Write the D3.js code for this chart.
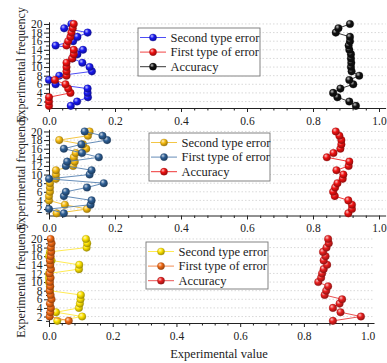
<!DOCTYPE html>
<html><head><meta charset="utf-8">
<script src="https://cdn.jsdelivr.net/npm/d3@7"></script>
<style>
body{margin:0;background:#fff}
svg{display:block}
text{font-family:"Liberation Serif","Times New Roman",serif;fill:#222}
</style>
</head><body>
<svg id="c" width="387" height="363"></svg>
<script>
// ---------- data ----------
const frequency = [1,2,3,4,5,6,7,8,9,10,11,12,13,14,15,16,17,18,19,20];
const xTickValues = [0, 0.2, 0.4, 0.6, 0.8, 1.0];
const yTickValues = [2,4,6,8,10,12,14,16,18,20];
const seriesNames = ["Second type error", "First type of error", "Accuracy"];
const xTitle = "Experimental value";
const yTitle = "Experimental frequency";

// panel 1
const p1Second = [0.066,0.085,0.118,0.117,0.117,0.020,0.000,0.031,0.130,0.123,0.101,0.071,0.086,0.103,0.020,0.073,0.086,0.117,0.046,0.068];
const p1First  = [0.000,0.000,0.000,0.065,0.058,0.050,0.018,0.053,0.053,0.053,0.053,0.070,0.075,0.075,0.053,0.058,0.065,0.068,0.072,0.075];
const p1Acc    = [0.930,0.910,0.874,0.861,0.883,0.922,0.910,0.940,0.917,0.915,0.916,0.915,0.915,0.910,0.908,0.912,0.912,0.869,0.877,0.912];
// panel 2
const p2Second = [0.023,0.115,0.048,0.000,0.000,0.003,0.003,0.003,0.021,0.021,0.021,0.073,0.078,0.075,0.081,0.113,0.103,0.031,0.118,0.123];
const p2First  = [0.045,0.000,0.126,0.129,0.045,0.051,0.115,0.166,0.000,0.123,0.129,0.051,0.055,0.151,0.100,0.045,0.098,0.176,0.162,0.108];
const p2Acc    = [0.907,0.918,0.918,0.907,0.866,0.861,0.867,0.874,0.890,0.892,0.871,0.908,0.910,0.842,0.862,0.883,0.886,0.886,0.880,0.869];
// panel 3
const p3Second = [0.026,0.104,0.022,0.094,0.097,0.099,0.100,0.003,0.003,0.000,0.000,0.000,0.094,0.095,0.008,0.000,0.003,0.118,0.120,0.116];
const p3First  = [0.062,0.002,0.004,0.006,0.003,0.008,0.005,0.002,0.004,0.003,0.005,0.002,0.006,0.004,0.003,0.005,0.007,0.006,0.008,0.005];
const p3Acc    = [0.891,0.979,0.915,0.891,0.912,0.920,0.865,0.870,0.876,0.845,0.854,0.857,0.862,0.873,0.862,0.868,0.860,0.871,0.878,0.876];

// ---------- styling / layout ----------
const panels = [
  {series:[p1Second,p1First,p1Acc], bottom:108, xmax:1.02, right:385.6,
   markers:["#1818f0","#f01010","#111111"], lines:["#3a3af5","#f03030","#222222"],
   legend:{x:138,y:28,w:122,h:48}},
  {series:[p2Second,p2First,p2Acc], bottom:215.5, xmax:1.02, right:385.6,
   markers:["#f6bb10","#2e5f95","#ee1212"], lines:["#f2c030","#5580b0","#ee2020"],
   legend:{x:149,y:133,w:121,h:48}},
  {series:[p3Second,p3First,p3Acc], bottom:323, xmax:1.02, right:374,
   markers:["#ffe400","#f06812","#e81e1e"], lines:["#ffe840","#f08040","#e84040"],
   legend:{x:146,y:242,w:122,h:47}}
];
const left = 49, panelH = 86.2;

const svg = d3.select("#c");
const defs = svg.append("defs");
let gid = 0;
function sphere(color){
  const id = "g" + (gid++);
  const c = d3.color(color);
  const g = defs.append("radialGradient").attr("id", id)
    .attr("cx","38%").attr("cy","35%").attr("r","65%").attr("fx","35%").attr("fy","30%");
  g.append("stop").attr("offset","0%").attr("stop-color", d3.interpolateRgb(color,"#fff")(0.75));
  g.append("stop").attr("offset","45%").attr("stop-color", color);
  g.append("stop").attr("offset","100%").attr("stop-color", c.darker(1.2));
  return "url(#" + id + ")";
}

panels.forEach((p, pi) => {
  const x = d3.scaleLinear().domain([0, p.xmax]).range([left, p.right]);
  const y = d3.scaleLinear().domain([0.5, 20.5]).range([p.bottom, p.bottom - panelH]);
  const g = svg.append("g");

  // grid
  g.selectAll("line.grid").data(yTickValues).enter().append("line")
    .attr("x1", left).attr("x2", p.right)
    .attr("y1", d => y(d)).attr("y2", d => y(d))
    .attr("stroke", "#cfcfcf").attr("stroke-width", 0.8).attr("stroke-dasharray", "1.5,2");

  // x axis
  const xAxis = d3.axisBottom(x).tickValues(xTickValues).tickFormat(d3.format(".1f"))
    .tickSize(4).tickSizeOuter(0);
  const xa = g.append("g").attr("transform", `translate(0,${p.bottom})`).call(xAxis);
  const xMinor = d3.axisBottom(x).tickValues(d3.range(0, 1.001, 0.04).filter(v => Math.abs(v*5 - Math.round(v*5)) > 1e-6))
    .tickSize(2.5).tickSizeOuter(0).tickFormat("");
  const xm = g.append("g").attr("transform", `translate(0,${p.bottom})`).call(xMinor);
  xm.select(".domain").remove();
  xm.selectAll("text").remove();
  [xa, xm].forEach(a => { a.selectAll("line").attr("stroke","#222"); a.select(".domain").attr("stroke","#222"); });
  xa.selectAll("text").attr("font-size", 11.5).attr("dy", "0.85em").style("font-family","'Liberation Serif',serif").attr("fill","#222");

  // y axis
  const yAxis = d3.axisLeft(y).tickValues(yTickValues).tickSize(5).tickSizeOuter(0);
  const ya = g.append("g").attr("transform", `translate(${left},0)`).call(yAxis);
  const yMinor = d3.axisLeft(y).tickValues(frequency.filter(v => v % 2 === 1)).tickSize(3).tickSizeOuter(0).tickFormat("");
  const ym = g.append("g").attr("transform", `translate(${left},0)`).call(yMinor);
  ym.select(".domain").remove();
  ym.selectAll("text").remove();
  [ya, ym].forEach(a => { a.selectAll("line").attr("stroke","#222"); a.select(".domain").attr("stroke","#222"); });
  ya.selectAll("text").attr("font-size", 11.5).attr("x", -6.5).style("font-family","'Liberation Serif',serif").attr("fill","#222");

  // y title
  g.append("text").attr("transform", `translate(20.5,${p.bottom - panelH/2}) rotate(-90)`)
    .attr("text-anchor","middle").attr("dominant-baseline","central")
    .attr("font-size", 12).text(yTitle);

  // series
  const line = d3.line().x(d => x(d[0])).y(d => y(d[1]));
  p.series.forEach((vals, si) => {
    const pts = vals.map((v, i) => [v, frequency[i]]);
    const fill = sphere(p.markers[si]);
    g.append("path").datum(pts).attr("d", line).attr("fill","none")
      .attr("stroke", p.lines[si]).attr("stroke-width", 0.9);
    g.selectAll(null).data(pts).enter().append("circle")
      .attr("cx", d => x(d[0])).attr("cy", d => y(d[1])).attr("r", 3.8)
      .attr("fill", fill).attr("stroke", d3.color(p.markers[si]).darker(1.5)).attr("stroke-width", 0.3);
  });

  // legend
  const L = p.legend;
  const lg = g.append("g");
  lg.append("rect").attr("x", L.x).attr("y", L.y).attr("width", L.w).attr("height", L.h)
    .attr("fill","#fff").attr("stroke","#777").attr("stroke-width", 0.9);
  seriesNames.forEach((name, si) => {
    const ry = L.y + 9.5 + si * 14.6;
    lg.append("line").attr("x1", L.x + 2).attr("x2", L.x + 28).attr("y1", ry).attr("y2", ry)
      .attr("stroke", p.lines[si]).attr("stroke-width", 0.9);
    lg.append("circle").attr("cx", L.x + 15).attr("cy", ry).attr("r", 3.6)
      .attr("fill", sphere(p.markers[si])).attr("stroke", d3.color(p.markers[si]).darker(1.5)).attr("stroke-width", 0.3);
    lg.append("text").attr("x", L.x + 32.5).attr("y", ry).attr("dominant-baseline","central")
      .attr("font-size", 12.5).text(name);
  });
});

// x title
svg.append("text").attr("x", 219).attr("y", 354).attr("text-anchor","middle")
  .attr("dominant-baseline","central").attr("font-size", 12.5).text(xTitle);
</script>
</body></html>
